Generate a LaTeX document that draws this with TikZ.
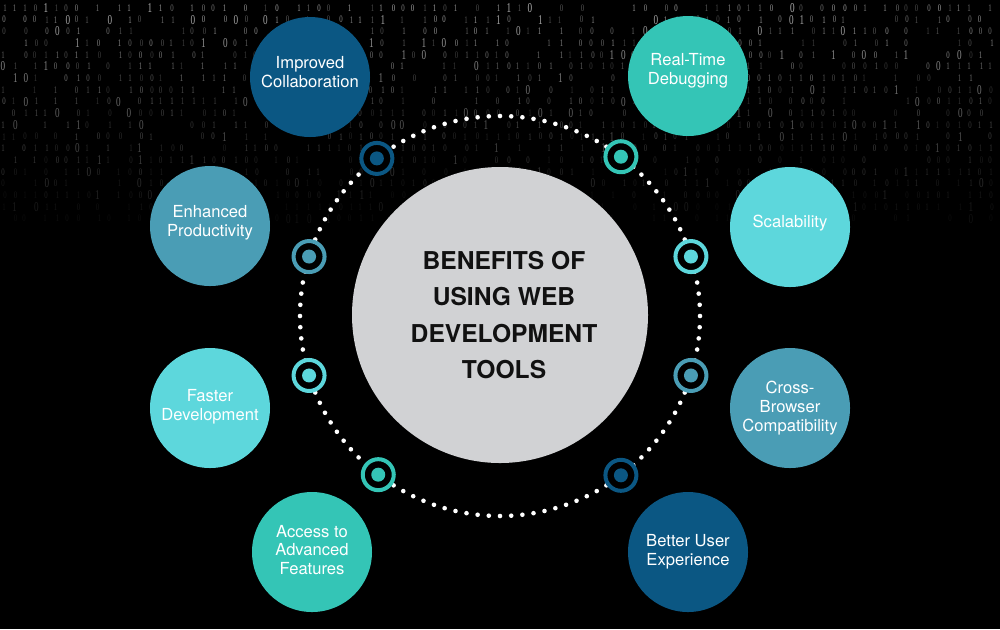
\documentclass[tikz,border=0pt]{standalone}
\usepackage{fontspec}
\usepackage{graphicx}
\setmainfont{TeX Gyre Heros}
\newfontfamily\digitfont{Liberation Serif}
\definecolor{cnavy}{HTML}{0B5783}
\definecolor{cteal}{HTML}{34C5B6}
\definecolor{csteel}{HTML}{4A9DB5}
\definecolor{ccyan}{HTML}{5DD7DC}
\definecolor{cgray}{HTML}{D1D2D4}
\definecolor{ctext}{HTML}{111111}
\begin{document}
\begin{tikzpicture}[x=0.5pt,y=-0.5pt,
  benefit/.style={circle, minimum size=60pt, inner sep=0pt, align=center, text=white,
    font=\fontsize{8.3}{9.4}\selectfont},
  hub/.style={circle, minimum size=148pt, inner sep=0pt, fill=cgray, align=center, text=ctext,
    font=\fontsize{12.3}{18.3}\selectfont\bfseries},
  markring/.style={circle, minimum size=15.5pt, inner sep=0pt, line width=2pt, draw=#1, fill=black},
  markdot/.style={circle, minimum size=7pt, inner sep=0pt, fill=#1},
  ringdot/.style={white}]
\useasboundingbox (0,0) rectangle (1000,629);
\fill[black] (0,0) rectangle (1000,629);

% binary background
\pgfmathsetseed{11}
\foreach \col in {0,...,94}{
  \foreach \row in {0,...,18}{
    \pgfmathrandominteger{\d}{0}{1}
    \pgfmathrandominteger{\s}{0}{9}
    \pgfmathrandominteger{\e}{0}{9}
    \pgfmathrandominteger{\j}{0}{2}
    \pgfmathsetmacro{\p}{max(5,(60-\row*3.0)*(0.5+0.07*\s))}
    \pgfmathsetmacro{\fs}{\s>8 ? 5.4 : 4.0}
    \ifnum\e>2
    \node[inner sep=0pt, text=white!\p!black, font=\digitfont\fontsize{\fs}{\fs}\selectfont]
      (b\col-\row) at (\col*10.5+3+\j, \row*11.7+8) {\scalebox{0.85}[1.25]{\d}};
    \fi
  }
}

% dotted ring
\foreach \i in {0,...,111}{
  \fill[ringdot] (500,316) ++(\i*3.2143:200) circle[radius=1.15pt];
}

% hub
\node[hub] (hub) at (500,315) {\hspace*{4pt}BENEFITS OF\\\hspace*{4pt}USING WEB\\\hspace*{4pt}DEVELOPMENT\\\hspace*{4pt}TOOLS};

% markers
\foreach \n/\a/\c in {m1/-128/cnavy, m2/-52.8/cteal, m3/-162.7/csteel, m4/-17.3/ccyan,
                      m5/162.7/ccyan, m6/17.3/csteel, m7/127.5/cteal, m8/52.8/cnavy}{
  \path (500,316) ++(\a:200) coordinate (\n);
  \node[markring=\c] (\n r) at (\n) {};
  \node[markdot=\c] (\n d) at (\n) {};
}

% benefit circles
\node[benefit, fill=cnavy]  (c1) at (310,77)  {};
\node[benefit, fill=cteal]  (c2) at (688,76)  {};
\node[benefit, fill=csteel] (c3) at (210,226) {};
\node[benefit, fill=ccyan]  (c4) at (790,227) {};
\node[benefit, fill=ccyan]  (c5) at (210,408) {};
\node[benefit, fill=csteel] (c6) at (790,408) {};
\node[benefit, fill=cteal]  (c7) at (312,552) {};
\node[benefit, fill=cnavy]  (c8) at (688,552) {};

\node[benefit, minimum size=0pt] (t1) at (310,72)  {Improved\\Collaboration};
\node[benefit, minimum size=0pt] (t2) at (688,71)  {Real-Time\\Debugging};
\node[benefit, minimum size=0pt] (t3) at (210,223) {Enhanced\\Productivity};
\node[benefit, minimum size=0pt] (t4) at (790,223) {Scalability};
\node[benefit, minimum size=0pt] (t5) at (210,407) {Faster\\Development};
\node[benefit, minimum size=0pt] (t6) at (790,408) {Cross-\\Browser\\Compatibility};
\node[benefit, minimum size=0pt] (t7) at (312,550) {Access to\\Advanced\\Features};
\node[benefit, minimum size=0pt] (t8) at (688,552) {Better User\\Experience};
\end{tikzpicture}
\end{document}
